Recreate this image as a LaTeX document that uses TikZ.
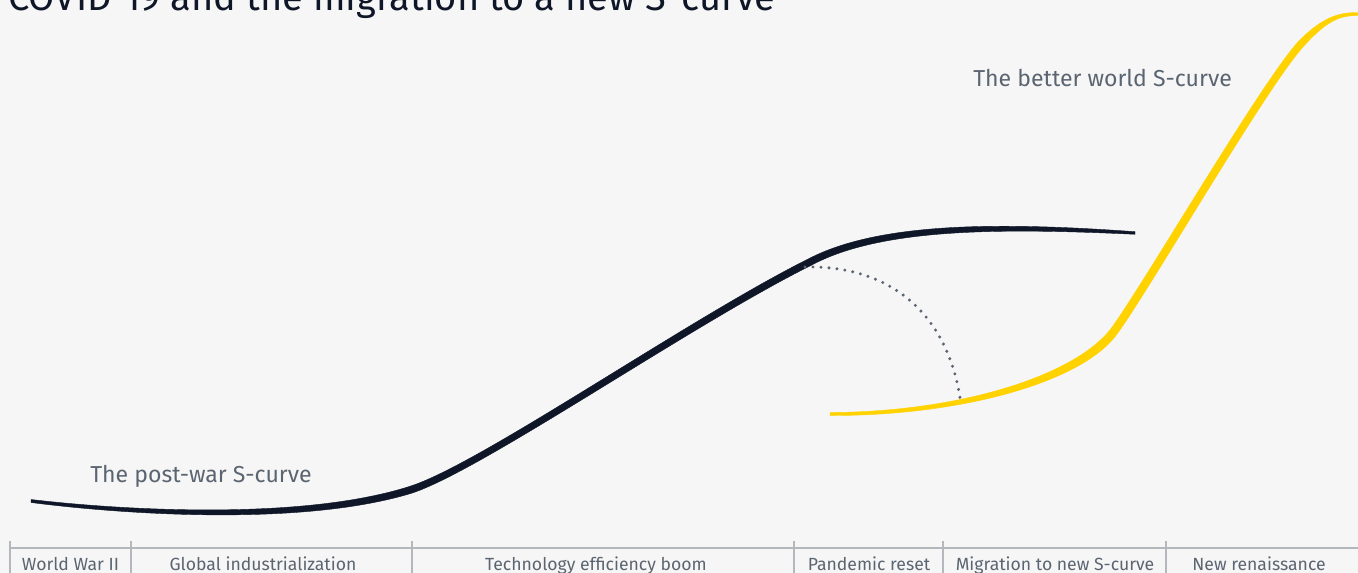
\documentclass[tikz,border=0pt]{standalone}
\usepackage{fontspec}
\setmainfont{Fira Sans}
\definecolor{bg}{HTML}{F6F6F6}
\definecolor{navy}{HTML}{0E1628}
\definecolor{ylw}{HTML}{FFD200}
\definecolor{txtgray}{HTML}{5B6571}
\definecolor{rule}{HTML}{B4B8BD}
\begin{document}
\begin{tikzpicture}[x=0.75pt,y=-0.75pt,
  lbl/.style={font=\fontsize{17.3}{19}\selectfont, text=txtgray, inner sep=0pt},
  cell/.style={font=\fontsize{13.2}{15}\selectfont, text=txtgray, inner sep=0pt, anchor=base},
  tick/.style={draw=rule, line width=0.9pt},
  darkfill/.style={fill=navy, draw=navy, line width=0.3pt},
  ylwfill/.style={fill=ylw, draw=ylw, line width=0.3pt},
  dotline/.style={draw=txtgray, line width=2.5pt, line cap=round, dash pattern=on 0pt off 6pt}]
\fill[bg] (0,0) rectangle (1358,573);
\useasboundingbox (0,0) rectangle (1358,573);
% title
\node[anchor=base west, inner sep=0pt, text=navy, font=\fontsize{28.5}{32}\selectfont] (title) at (8,11) {COVID-19 and the migration to a new S-curve};
% labels
\node[lbl, anchor=base west] (postwar) at (90,482) {The post-war S-curve};
\node[lbl, anchor=base west] (better) at (973,87) {The better world S-curve};
% dark tapered curve
\fill[darkfill] (31,499.5) .. controls (120,510) and (300,521) .. (409,486.6)
  .. controls (479,465) and (688,319) .. (808.4,258.9)
  .. controls (879,222) and (1000,222) .. (1135,231.7)
  -- (1135,234.3)
  .. controls (1000,228) and (881,228) .. (811.6,265.1)
  .. controls (691,325) and (481,471) .. (411,493.4)
  .. controls (300,527) and (120,514) .. (31,502.5) -- cycle;
% yellow tapered curve
\fill[ylwfill] (830,412.5) .. controls (960,412) and (1076,375.6) .. (1111.8,327.6)
  .. controls (1146.8,278.6) and (1259.4,85.6) .. (1297.4,42.6)
  .. controls (1323,16) and (1340,12.5) .. (1358,12.5)
  -- (1358,15.5)
  .. controls (1340,15.5) and (1327,20) .. (1302.6,47.4)
  .. controls (1264.6,90.4) and (1153.2,283.4) .. (1118.2,332.4)
  .. controls (1084,382.4) and (960,416) .. (830,415.5) -- cycle;
% dotted arc between the curves
\coordinate (a0) at (805,267);
\coordinate (a1) at (961,405);
\draw[dotline] (a0) .. controls (905,265) and (952,330) .. (a1);
% table
\draw[tick] (10,548) -- (1358,548);
\foreach \xx in {10,131,412,794,943,1166} {\draw[tick] (\xx,541) -- (\xx,573);}
\node[cell] (c1) at (70.5,570) {World War II};
\node[cell] (c2) at (263,570) {Global industrialization};
\node[cell] (c3) at (596,570) {Technology efficiency boom};
\node[cell] (c4) at (869,570) {Pandemic reset};
\node[cell] (c5) at (1055,570) {Migration to new S-curve};
\node[cell] (c6) at (1259,570) {New renaissance};
\end{tikzpicture}
\end{document}
